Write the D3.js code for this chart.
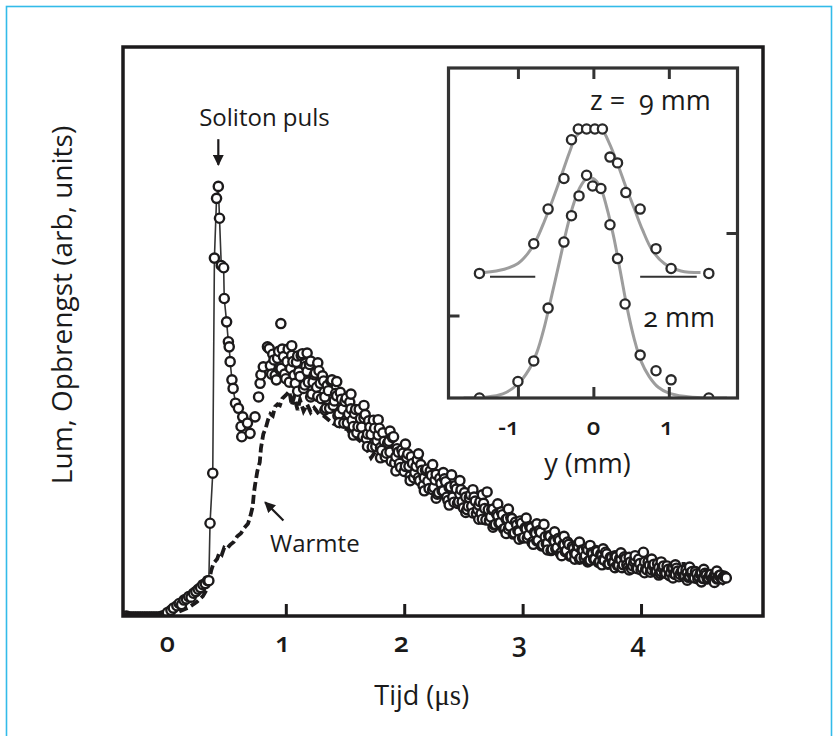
<!DOCTYPE html>
<html><head><meta charset="utf-8">
<script src="https://cdn.jsdelivr.net/npm/d3@7/dist/d3.min.js"></script>
<style>
html,body{margin:0;padding:0;background:#fff;}
svg{display:block;}
text{font-family:"Open Sans",sans-serif;fill:#1a1a1a;}
.num{font-variant-numeric:oldstyle-nums;font-feature-settings:"onum" 1;}
</style></head><body>
<svg id="c" width="834" height="736"></svg>
<script>
// ---------------- DATA ----------------
// Main chart: time in microseconds, luminescence in arbitrary units (0..10)
const xTickValues = [0, 1, 2, 3, 4];
const xTickLabels = ["0", "1", "2", "3", "4"];
const xTickMarks = [1, 2, 3, 4];

// circles lying on the baseline before the pulse
const baselineCircles = [[-0.345,0],[-0.33,-0.02],[-0.315,-0.02],[-0.30,-0.02],[-0.285,-0.02],[-0.27,-0.02],[-0.255,-0.02],[-0.24,-0.02],[-0.225,-0.02],[-0.21,-0.02],[-0.195,-0.02],[-0.18,-0.02],[-0.165,-0.02],[-0.15,-0.02],[-0.135,-0.02],[-0.12,-0.02],[-0.105,-0.02],[-0.09,-0.02],[-0.075,-0.02],[-0.06,-0.02],[-0.045,0.0],[-0.03,0.0],[-0.015,0.02]];
// slow rise before the soliton pulse
const riseCircles = [[0.00,0.06],[0.03,0.10],[0.05,0.14],[0.08,0.18],[0.10,0.22],[0.12,0.20],[0.14,0.28],[0.16,0.30],[0.18,0.34],[0.20,0.33],[0.22,0.40],[0.24,0.43],[0.26,0.47],[0.28,0.50],[0.30,0.55],[0.32,0.57],[0.34,0.62]];
// soliton pulse (circles joined by a thin line)
const solitonPoints = [[0.30,0.55],[0.35,0.62],[0.36,1.63],[0.383,2.51],[0.397,6.29],[0.415,7.34],[0.43,7.55],[0.44,6.99],[0.455,6.16],[0.475,6.12],[0.48,5.58],[0.50,5.17],[0.515,4.82],[0.522,4.73],[0.53,4.47],[0.545,4.15],[0.555,4.00],[0.575,3.74],[0.60,3.65]];
const afterPulseCircles = [[0.622,3.33],[0.628,3.15],[0.636,3.50],[0.676,3.39],[0.698,3.21],[0.74,3.50],[0.77,3.85],[0.783,4.09],[0.79,4.24],[0.81,4.38],[0.845,4.73],[0.958,5.14]];
// warm (thermal) band of circles, first sweep
const bandCircles = [
[0.86,4.70],[0.88,4.25],[0.90,4.50],[0.92,4.15],[0.94,4.65],[0.96,4.35],[0.98,4.56],[1.00,4.17],[1.02,4.69],[1.04,4.35],
[1.06,4.47],[1.08,4.09],[1.10,4.57],[1.12,4.21],[1.14,4.61],[1.16,4.06],[1.18,4.30],[1.20,4.42],[1.22,3.90],[1.24,4.24],
[1.26,4.02],[1.28,4.31],[1.30,3.82],[1.32,4.13],[1.34,3.65],[1.36,3.96],[1.38,4.13],[1.40,3.70],[1.42,3.91],[1.44,3.52],
[1.46,3.93],[1.48,3.64],[1.50,3.77],[1.52,3.39],[1.54,3.76],[1.56,3.44],[1.58,3.56],[1.60,3.22],[1.62,3.63],[1.64,3.32],
[1.66,3.48],[1.68,3.12],[1.70,3.43],[1.72,3.19],[1.74,3.44],[1.76,2.98],[1.78,3.18],[1.80,2.96],[1.82,3.22],[1.84,2.80],
[1.86,3.04],[1.88,2.88],[1.90,3.14],[1.92,2.69],[1.94,2.94],[1.96,2.68],[1.98,2.92],[2.00,2.54],[2.02,2.79],[2.04,2.63],
[2.06,2.80],[2.08,2.43],[2.10,2.63],[2.12,2.43],[2.14,2.66],[2.16,2.29],[2.18,2.56],[2.20,2.37],[2.22,2.55],[2.24,2.22],
[2.26,2.39],[2.28,2.14],[2.30,2.42],[2.32,2.20],[2.34,2.41],[2.36,2.09],[2.38,2.26],[2.40,2.48],[2.42,2.00],[2.44,2.23],
[2.46,2.01],[2.48,2.22],[2.50,1.90],[2.52,2.09],[2.54,1.93],[2.56,2.13],[2.58,1.81],[2.60,2.02],[2.62,1.87],[2.64,2.01],
[2.66,1.70],[2.68,1.89],[2.70,2.18],[2.72,1.68],[2.74,1.87],[2.76,1.60],[2.78,1.79],[2.80,1.63],[2.82,1.83],[2.84,1.53],
[2.86,1.70],[2.88,1.53],[2.90,1.73],[2.92,1.44],[2.94,1.65],[2.96,1.50],[2.98,1.67],[3.00,1.37],[3.02,1.55],[3.04,1.37],
[3.06,1.57],[3.08,1.29],[3.10,1.47],[3.12,1.32],[3.14,1.50],[3.16,1.23],[3.18,1.61],[3.20,1.27],[3.22,1.41],[3.24,1.15],
[3.26,1.33],[3.28,1.18],[3.30,1.36],[3.32,1.10],[3.34,1.25],[3.36,1.13],[3.38,1.30],[3.40,1.05],[3.42,1.22],[3.44,1.10],
[3.46,1.25],[3.48,1.00],[3.50,1.16],[3.52,1.02],[3.54,1.19],[3.56,0.97],[3.58,1.11],[3.60,1.00],[3.62,1.15],[3.64,0.94],
[3.66,1.09],[3.68,0.99],[3.70,1.12],[3.72,0.91],[3.74,1.03],[3.76,0.94],[3.78,1.06],[3.80,0.89],[3.82,1.01],[3.84,0.85],
[3.86,1.04],[3.88,0.90],[3.90,1.03],[3.92,0.83],[3.94,0.95],[3.96,0.85],[3.98,1.00],[4.00,0.81],[4.02,1.12],[4.04,0.83],
[4.06,0.95],[4.08,0.77],[4.10,0.89],[4.12,0.78],[4.14,0.92],[4.16,0.75],[4.18,0.85],[4.20,0.76],[4.22,0.88],[4.24,0.71],
[4.26,0.84],[4.28,0.74],[4.30,0.84],[4.32,0.69],[4.34,0.78],[4.36,0.70],[4.38,0.81],[4.40,0.68],[4.42,0.76],[4.44,0.68],
[4.46,0.78],[4.48,0.65],[4.50,0.74],[4.52,0.66],[4.54,0.75],[4.56,0.65],[4.58,0.72],[4.60,0.65],[4.62,0.72],[4.64,0.65],
[4.66,0.71],[4.68,0.65],[4.70,0.70],[4.72,0.67]];
// warm band, second sweep (interleaved)
const bandCircles2 = [
[0.87,4.40],[0.89,4.60],[0.91,4.23],[0.93,4.53],[0.95,4.33],[0.97,4.69],[0.99,4.25],[1.01,4.47],[1.03,4.11],[1.05,4.58],
[1.07,4.23],[1.09,4.46],[1.11,4.29],[1.13,4.58],[1.15,4.00],[1.17,4.39],[1.19,4.11],[1.21,4.48],[1.23,4.11],[1.25,4.27],
[1.27,3.86],[1.29,4.09],[1.31,4.22],[1.33,3.85],[1.35,4.05],[1.37,3.65],[1.39,4.15],[1.41,3.78],[1.43,3.87],[1.45,3.55],
[1.47,3.81],[1.49,3.39],[1.51,3.83],[1.53,3.55],[1.55,3.64],[1.57,3.33],[1.59,3.63],[1.61,3.33],[1.63,3.47],[1.65,3.16],
[1.67,3.54],[1.69,3.20],[1.71,3.32],[1.73,2.97],[1.75,3.30],[1.77,3.08],[1.79,3.30],[1.81,2.91],[1.83,3.07],[1.85,2.86],
[1.87,3.07],[1.89,2.72],[1.91,3.15],[1.93,2.80],[1.95,2.88],[1.97,2.61],[1.99,2.86],[2.01,2.63],[2.03,2.85],[2.05,2.46],
[2.07,2.68],[2.09,2.52],[2.11,2.75],[2.13,2.38],[2.15,2.56],[2.17,2.43],[2.19,2.58],[2.21,2.24],[2.23,2.47],[2.25,2.26],
[2.27,2.49],[2.29,2.17],[2.31,2.33],[2.33,2.20],[2.35,2.36],[2.37,2.03],[2.39,2.27],[2.41,2.09],[2.43,2.29],[2.45,1.98],
[2.47,2.14],[2.49,2.01],[2.51,2.17],[2.53,1.87],[2.55,2.08],[2.57,1.93],[2.59,2.09],[2.61,1.80],[2.63,1.95],[2.65,1.80],
[2.67,1.98],[2.69,1.69],[2.71,1.87],[2.73,1.74],[2.75,1.88],[2.77,1.61],[2.79,1.76],[2.81,1.64],[2.83,1.78],[2.85,1.54],
[2.87,1.71],[2.89,1.58],[2.91,1.71],[2.93,1.46],[2.95,1.60],[2.97,1.48],[2.99,1.63],[3.01,1.38],[3.03,1.53],[3.05,1.42],
[3.07,1.55],[3.09,1.31],[3.11,1.45],[3.13,1.33],[3.15,1.47],[3.17,1.25],[3.19,1.39],[3.21,1.28],[3.23,1.40],[3.25,1.17],
[3.27,1.31],[3.29,1.20],[3.31,1.33],[3.33,1.12],[3.35,1.25],[3.37,1.15],[3.39,1.26],[3.41,1.06],[3.43,1.19],[3.45,1.09],
[3.47,1.22],[3.49,1.02],[3.51,1.15],[3.53,1.06],[3.55,1.16],[3.57,0.98],[3.59,1.09],[3.61,1.00],[3.63,1.13],[3.65,0.96],
[3.67,1.07],[3.69,0.98],[3.71,1.09],[3.73,0.92],[3.75,1.02],[3.77,0.94],[3.79,1.04],[3.81,0.89],[3.83,0.99],[3.85,0.90],
[3.87,1.01],[3.89,0.86],[3.91,0.95],[3.93,0.88],[3.95,0.98],[3.97,0.83],[3.99,0.92],[4.01,0.84],[4.03,0.95],[4.05,0.81],
[4.07,0.89],[4.09,0.81],[4.11,0.91],[4.13,0.78],[4.15,0.85],[4.17,0.78],[4.19,0.88],[4.21,0.75],[4.23,0.82],[4.25,0.76],
[4.27,0.84],[4.29,0.73],[4.31,0.79],[4.33,0.73],[4.35,0.80],[4.37,0.70],[4.39,0.76],[4.41,0.70],[4.43,0.78],[4.45,0.67],
[4.47,0.74],[4.49,0.68],[4.51,0.76],[4.53,0.66],[4.55,0.72],[4.57,0.67],[4.59,0.73],[4.61,0.65],[4.63,0.70],[4.65,0.66],
[4.67,0.72],[4.69,0.65],[4.71,0.69]];
// scattered circles at the upper and lower edges of the band
const bandEdgeCircles = [
[1.05,4.75],[1.18,4.62],[1.27,4.45],[1.43,4.12],[1.55,3.90],[1.66,3.70],[1.78,3.45],[1.88,3.25],[2.01,3.02],[2.12,2.85],
[2.24,2.66],[2.33,2.52],[2.47,2.38],[2.58,2.22],[2.66,2.13],[2.79,1.97],[2.88,1.88],[3.03,1.72],[3.12,1.62],[3.27,1.48],
[3.35,1.40],[3.48,1.30],[3.57,1.24],[3.68,1.18],[3.83,1.11],[3.95,1.06],[4.09,1.00],[4.17,0.95],[4.29,0.90],[4.41,0.86],
[4.53,0.82],[4.64,0.79],
[1.10,3.95],[1.21,3.85],[1.33,3.62],[1.45,3.40],[1.57,3.18],[1.69,2.98],[1.80,2.78],[1.93,2.55],[2.05,2.38],[2.17,2.20],
[2.27,2.07],[2.38,1.95],[2.52,1.82],[2.63,1.70],[2.75,1.56],[2.86,1.45],[2.97,1.35],[3.09,1.26],[3.21,1.16],[3.33,1.06],
[3.44,1.00],[3.55,0.95],[3.67,0.90],[3.78,0.85],[3.90,0.81],[4.03,0.76],[4.15,0.72],[4.27,0.67],[4.39,0.63],[4.51,0.60],
[4.62,0.59]];
// "Warmte" dashed curve
const heatPoints = [[0.10,0.08],[0.18,0.15],[0.25,0.25],[0.30,0.35],[0.33,0.46],[0.36,0.70],[0.37,0.80],[0.39,0.93],[0.42,1.00],[0.44,1.12],
[0.46,1.08],[0.48,1.20],[0.50,1.18],[0.53,1.25],[0.56,1.30],[0.59,1.40],[0.62,1.45],[0.65,1.55],[0.68,1.62],[0.70,1.75],
[0.72,1.92],[0.73,2.15],[0.74,2.30],[0.76,2.55],[0.78,2.70],[0.79,2.95],[0.81,3.20],[0.83,3.30],[0.85,3.45],[0.87,3.55],
[0.89,3.52],[0.91,3.68],[0.93,3.72],[0.95,3.70],[0.97,3.82],[1.00,3.88],[1.03,3.95],[1.05,3.70],[1.07,3.85],[1.10,3.62],
[1.12,3.80],[1.15,3.60],[1.18,3.72],[1.21,3.58],[1.24,3.66],[1.28,3.55],[1.32,3.52],[1.36,3.45],[1.40,3.38],[1.44,3.35],
[1.48,3.30],[1.52,3.28],[1.56,3.15],[1.60,3.12],[1.64,3.05],[1.68,2.95],[1.72,2.78],[1.76,2.90],[1.80,2.80],[1.84,2.75],
[1.88,2.70],[1.92,2.62],[1.96,2.58],[2.00,2.52],[2.05,2.45],[2.10,2.32],[2.15,2.30],[2.20,2.24],[2.25,2.18],[2.30,2.12],
[2.40,2.02],[2.50,1.92],[2.60,1.82],[2.70,1.70],[2.80,1.61],[2.90,1.52],[3.00,1.43],[3.10,1.35],[3.20,1.27],[3.30,1.18],
[3.40,1.10],[3.50,1.05],[3.60,1.00],[3.70,0.95],[3.80,0.91],[3.90,0.87],[4.00,0.83],[4.10,0.79],[4.20,0.75],[4.30,0.72],
[4.35,0.72],[4.36,0.98],[4.37,0.70],[4.40,0.68],[4.50,0.65],[4.60,0.61],[4.67,0.55],[4.70,0.58]];

// Inset: transverse position y (mm) vs intensity
const insetTickValues = [-1, 0, 1];
const insetTickLabels = ["-1", "0", "1"];
const profile9Circles = [[-1.51,1.51],[-0.79,1.87],[-0.60,2.29],[-0.39,2.66],[-0.29,3.13],[-0.20,3.26],[-0.09,3.26],[0.02,3.26],[0.12,3.26],[0.22,2.92],[0.32,2.85],[0.43,2.49],[0.62,2.29],[0.83,1.81],[1.03,1.57],[1.53,1.51]];
const profile2Circles = [[-1.51,0.0],[-1.00,0.20],[-0.79,0.45],[-0.60,1.09],[-0.39,1.89],[-0.29,2.21],[-0.19,2.45],[-0.09,2.70],[-0.01,2.57],[0.10,2.54],[0.22,2.10],[0.32,1.69],[0.42,1.14],[0.62,0.52],[0.83,0.33],[1.03,0.22],[1.53,0.0]];
const fit9Curve = [[-1.45,1.52],[-1.18,1.56],[-1.00,1.63],[-0.87,1.75],[-0.76,1.91],[-0.65,2.14],[-0.54,2.40],[-0.43,2.68],[-0.32,2.97],[-0.23,3.17],[-0.12,3.26],[0.01,3.28],[0.12,3.24],[0.21,3.09],[0.32,2.84],[0.43,2.56],[0.54,2.30],[0.65,2.04],[0.78,1.79],[0.94,1.63],[1.16,1.54],[1.42,1.52]];
const fit2Curve = [[-1.72,0.0],[-1.45,0.01],[-1.20,0.05],[-1.00,0.17],[-0.85,0.35],[-0.75,0.55],[-0.65,0.86],[-0.55,1.25],[-0.45,1.65],[-0.36,2.02],[-0.27,2.33],[-0.18,2.55],[-0.09,2.66],[0.00,2.66],[0.09,2.56],[0.18,2.30],[0.27,1.95],[0.36,1.52],[0.45,1.08],[0.54,0.72],[0.63,0.45],[0.74,0.26],[0.86,0.13],[1.00,0.06],[1.20,0.02],[1.45,0.0],[1.77,0.0]];
const baseline9Segments = [[[-1.37,1.47],[-0.77,1.47]],[[0.62,1.47],[1.37,1.47]]];

// ---------------- DRAWING ----------------
const svg = d3.select("#c");
const ink = "#1c1a1b";

svg.append("rect").attr("x",6.5).attr("y",6.5).attr("width",825).attr("height",760)
  .attr("fill","none").attr("stroke","#33bbe9").attr("stroke-width",1.6);

const M = {l:123, r:763, t:47, b:616};
const x = d3.scaleLinear().domain([-0.375, 5.03]).range([M.l, M.r]);
const y = d3.scaleLinear().domain([0, 10]).range([M.b, M.t]);

const defs = svg.append("defs");
defs.append("clipPath").attr("id","mainClip").append("rect")
  .attr("x",M.l).attr("y",M.t).attr("width",M.r-M.l).attr("height",M.b-M.t);
defs.append("marker").attr("id","arr").attr("viewBox","0 0 10 10").attr("refX",9).attr("refY",5)
  .attr("markerWidth",5).attr("markerHeight",5).attr("markerUnits","strokeWidth").attr("orient","auto")
  .append("path").attr("d","M0,0 L10,5 L0,10 z").attr("fill",ink);

const main = svg.append("g").attr("clip-path","url(#mainClip)");
const line = d3.line().x(d=>x(d[0])).y(d=>y(d[1]));

main.append("path").datum(heatPoints).attr("d",line).attr("fill","none")
  .attr("stroke",ink).attr("stroke-width",3.8).attr("stroke-dasharray","9,4");
main.append("path").datum(solitonPoints).attr("d",line).attr("fill","none")
  .attr("stroke","#333").attr("stroke-width",1.6);

const allCircles = baselineCircles.concat(riseCircles, solitonPoints.slice(1), afterPulseCircles, bandCircles, bandCircles2, bandEdgeCircles)
  .sort((a,b)=>a[0]-b[0]);
main.selectAll("circle.m").data(allCircles).join("circle").attr("class","m")
  .attr("cx",d=>x(d[0])).attr("cy",d=>y(d[1])).attr("r",4.6)
  .attr("fill","#fff").attr("stroke",ink).attr("stroke-width",2.4);

// frame
svg.append("rect").attr("x",M.l).attr("y",M.t).attr("width",M.r-M.l).attr("height",M.b-M.t)
  .attr("fill","none").attr("stroke",ink).attr("stroke-width",3.5);

// x axis ticks (inward)
const xAxis = svg.append("g").attr("transform",`translate(0,${M.b})`)
  .call(d3.axisBottom(x).tickValues(xTickMarks).tickSize(-12).tickSizeOuter(0).tickFormat(""));
xAxis.select(".domain").remove();
xAxis.selectAll(".tick line").attr("stroke",ink).attr("stroke-width",3);

svg.append("g").selectAll("text").data(xTickValues).join("text").attr("class","num")
  .attr("x",(d,i)=>x(d) - (i===0?0:3)).attr("y",652).attr("text-anchor","middle")
  .attr("font-size",27).attr("font-weight",600).text((d,i)=>xTickLabels[i]);

// axis titles
const xt = svg.append("text").attr("x",421.7).attr("y",705).attr("text-anchor","middle").attr("font-size",27);
xt.append("tspan").text("Tijd (");
xt.append("tspan").attr("style","font-family:'Liberation Serif',serif").attr("font-size",29).text("\u03BCs");
xt.append("tspan").text(")");

svg.append("text").attr("transform","translate(72,305) rotate(-90)").attr("text-anchor","middle")
  .attr("font-size",28).text("Lum, Opbrengst (arb, units)");

// annotations
svg.append("text").attr("x",x(0.82)).attr("y",y(8.61)).attr("text-anchor","middle")
  .attr("font-size",24).text("Soliton puls");
svg.append("line").attr("x1",x(0.43)).attr("y1",y(8.38)).attr("x2",x(0.43)).attr("y2",y(7.93))
  .attr("stroke",ink).attr("stroke-width",2.2).attr("marker-end","url(#arr)");
svg.append("line").attr("x1",x(0.98)).attr("y1",y(1.68)).attr("x2",x(0.825)).attr("y2",y(2.0))
  .attr("stroke",ink).attr("stroke-width",2.2).attr("marker-end","url(#arr)");
svg.append("text").attr("x",x(0.867)).attr("y",y(1.125)).attr("font-size",24).text("Warmte");

// ---------------- INSET ----------------
const I = {l:448.5, r:737.5, t:68, b:398};
const xi = d3.scaleLinear().domain([-1.92, 1.91]).range([I.l, I.r]);
const yi = d3.scaleLinear().domain([0, 4]).range([I.b, I.t]);
defs.append("clipPath").attr("id","insetClip").append("rect")
  .attr("x",I.l).attr("y",I.t).attr("width",I.r-I.l).attr("height",I.b-I.t);

svg.append("rect").attr("x",I.l).attr("y",I.t).attr("width",I.r-I.l).attr("height",I.b-I.t).attr("fill","#fff");
const ins = svg.append("g").attr("clip-path","url(#insetClip)");
const iline = d3.line().x(d=>xi(d[0])).y(d=>yi(d[1])).curve(d3.curveCatmullRom.alpha(0.5));
[fit9Curve, fit2Curve].forEach(c=>{
  ins.append("path").datum(c).attr("d",iline).attr("fill","none").attr("stroke","#9d9d9d").attr("stroke-width",3);
});
const sline = d3.line().x(d=>xi(d[0])).y(d=>yi(d[1]));
baseline9Segments.forEach(s=>{
  ins.append("path").datum(s).attr("d",sline).attr("stroke","#333").attr("stroke-width",2.2);
});
ins.selectAll("circle.i").data(profile9Circles.concat(profile2Circles)).join("circle").attr("class","i")
  .attr("cx",d=>xi(d[0])).attr("cy",d=>yi(d[1])).attr("r",4.6)
  .attr("fill","#fff").attr("stroke","#2a2a2a").attr("stroke-width",2.3);

svg.append("rect").attr("x",I.l).attr("y",I.t).attr("width",I.r-I.l).attr("height",I.b-I.t)
  .attr("fill","none").attr("stroke","#333").attr("stroke-width",3.2);

function styleTicks(g){ g.select(".domain").remove(); g.selectAll(".tick line").attr("stroke","#333").attr("stroke-width",3); }
svg.append("g").attr("transform",`translate(0,${I.t})`)
  .call(d3.axisTop(xi).tickValues(insetTickValues).tickSize(-11).tickFormat("")).call(styleTicks);
svg.append("g").attr("transform",`translate(0,${I.b})`)
  .call(d3.axisBottom(xi).tickValues(insetTickValues).tickSize(-11).tickFormat("")).call(styleTicks);
svg.append("g").attr("transform",`translate(${I.l},0)`)
  .call(d3.axisLeft(yi).tickValues([1]).tickSize(-11).tickFormat("")).call(styleTicks);
svg.append("g").attr("transform",`translate(${I.r},0)`)
  .call(d3.axisRight(yi).tickValues([2]).tickSize(-11).tickFormat("")).call(styleTicks);

svg.append("g").selectAll("text").data(insetTickValues).join("text").attr("class","num")
  .attr("x",d=>xi(d) + (d<0?-9:(d>0?-2:0))).attr("y",435).attr("text-anchor","middle")
  .attr("font-size",24).attr("font-weight",600).text((d,i)=>insetTickLabels[i]);

svg.append("text").attr("x",587.5).attr("y",473).attr("text-anchor","middle").attr("font-size",27).text("y (mm)");
svg.append("text").attr("class","num").attr("x",xi(-0.045)).attr("y",yi(3.49)).attr("font-size",27)
  .attr("style","white-space:pre").text("z =  9 mm");
svg.append("text").attr("class","num").attr("x",xi(0.66)).attr("y",yi(0.864)).attr("font-size",27).text("2 mm");
</script>
</body></html>
